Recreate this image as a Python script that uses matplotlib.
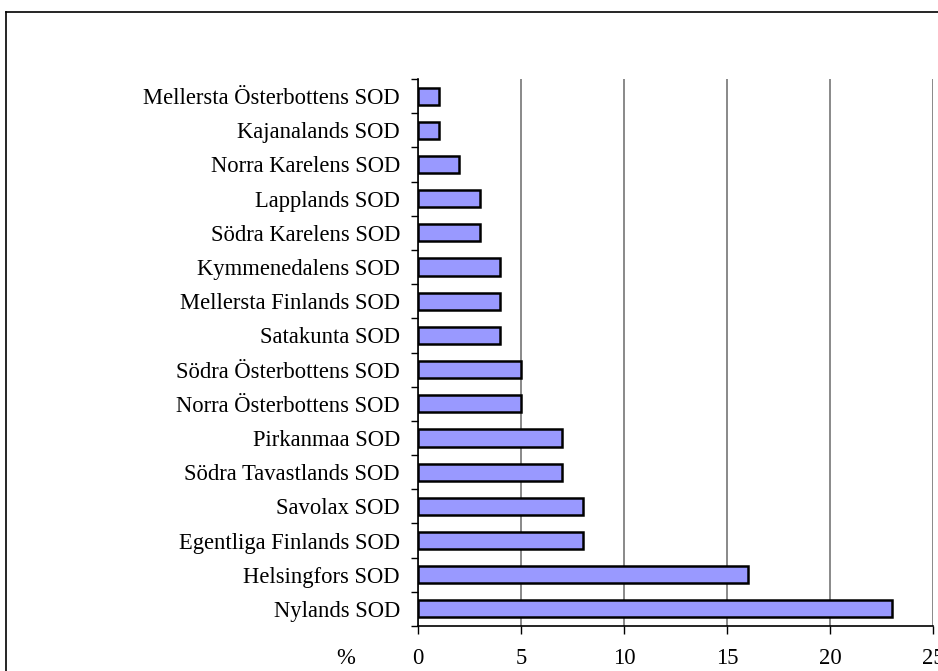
import matplotlib
matplotlib.use("Agg")
import matplotlib.pyplot as plt
from matplotlib.lines import Line2D
import numpy as np

categories = ["Nylands SOD", "Helsingfors SOD", "Egentliga Finlands SOD", "Savolax SOD",
              "Södra Tavastlands SOD", "Pirkanmaa SOD", "Norra Österbottens SOD",
              "Södra Österbottens SOD", "Satakunta SOD", "Mellersta Finlands SOD",
              "Kymmenedalens SOD", "Södra Karelens SOD", "Lapplands SOD",
              "Norra Karelens SOD", "Kajanalands SOD", "Mellersta Österbottens SOD"]
values = [23, 16, 8, 8, 7, 7, 5, 5, 4, 4, 4, 3, 3, 2, 1, 1]
xticks = [0, 5, 10, 15, 20, 25]

plt.rcParams['font.family'] = ['Liberation Serif', 'DejaVu Serif']

W, H = 938, 671
fig = plt.figure(figsize=(W/100, H/100), dpi=100)
ax = fig.add_axes([418/W, 1-626/H, 515/W, (626-79)/H])

y = np.arange(len(categories))
ax.barh(y, values, height=0.5, color="#9999FF", edgecolor="black", linewidth=1.8, zorder=3)
ax.set_xlim(0, 25)
ax.set_ylim(-0.5, len(categories)-0.5)

fs = 16.3
ax.set_xticks(xticks)
ax.set_xticklabels([str(t) for t in xticks], fontsize=fs)
ax.xaxis.grid(True, color="#808080", linewidth=1.3, zorder=0)
ax.set_yticks(y)
ax.set_yticklabels(categories, fontsize=fs)
ax.set_yticks(np.arange(-0.5, len(categories), 1), minor=True)
ax.tick_params(axis='y', which='major', length=0, pad=13)
ax.tick_params(axis='y', which='minor', length=5, width=1, direction='out')
ax.tick_params(axis='x', which='major', length=6, width=1, direction='out', pad=9.5)

for s in ['top', 'right']:
    ax.spines[s].set_visible(False)
ax.spines['left'].set_linewidth(1.2)
ax.spines['bottom'].set_linewidth(1.2)

fig.text(346/W, 1-658/H, "%", fontsize=fs, ha='center', va='center')

# figure border (left and top edges visible)
fig.add_artist(Line2D([6/W, 6/W], [0, 1-12/H], color='black', linewidth=1.2, transform=fig.transFigure))
fig.add_artist(Line2D([6/W, 1], [1-12/H, 1-12/H], color='black', linewidth=1.2, transform=fig.transFigure))

fig.savefig("out.png", dpi=100)
